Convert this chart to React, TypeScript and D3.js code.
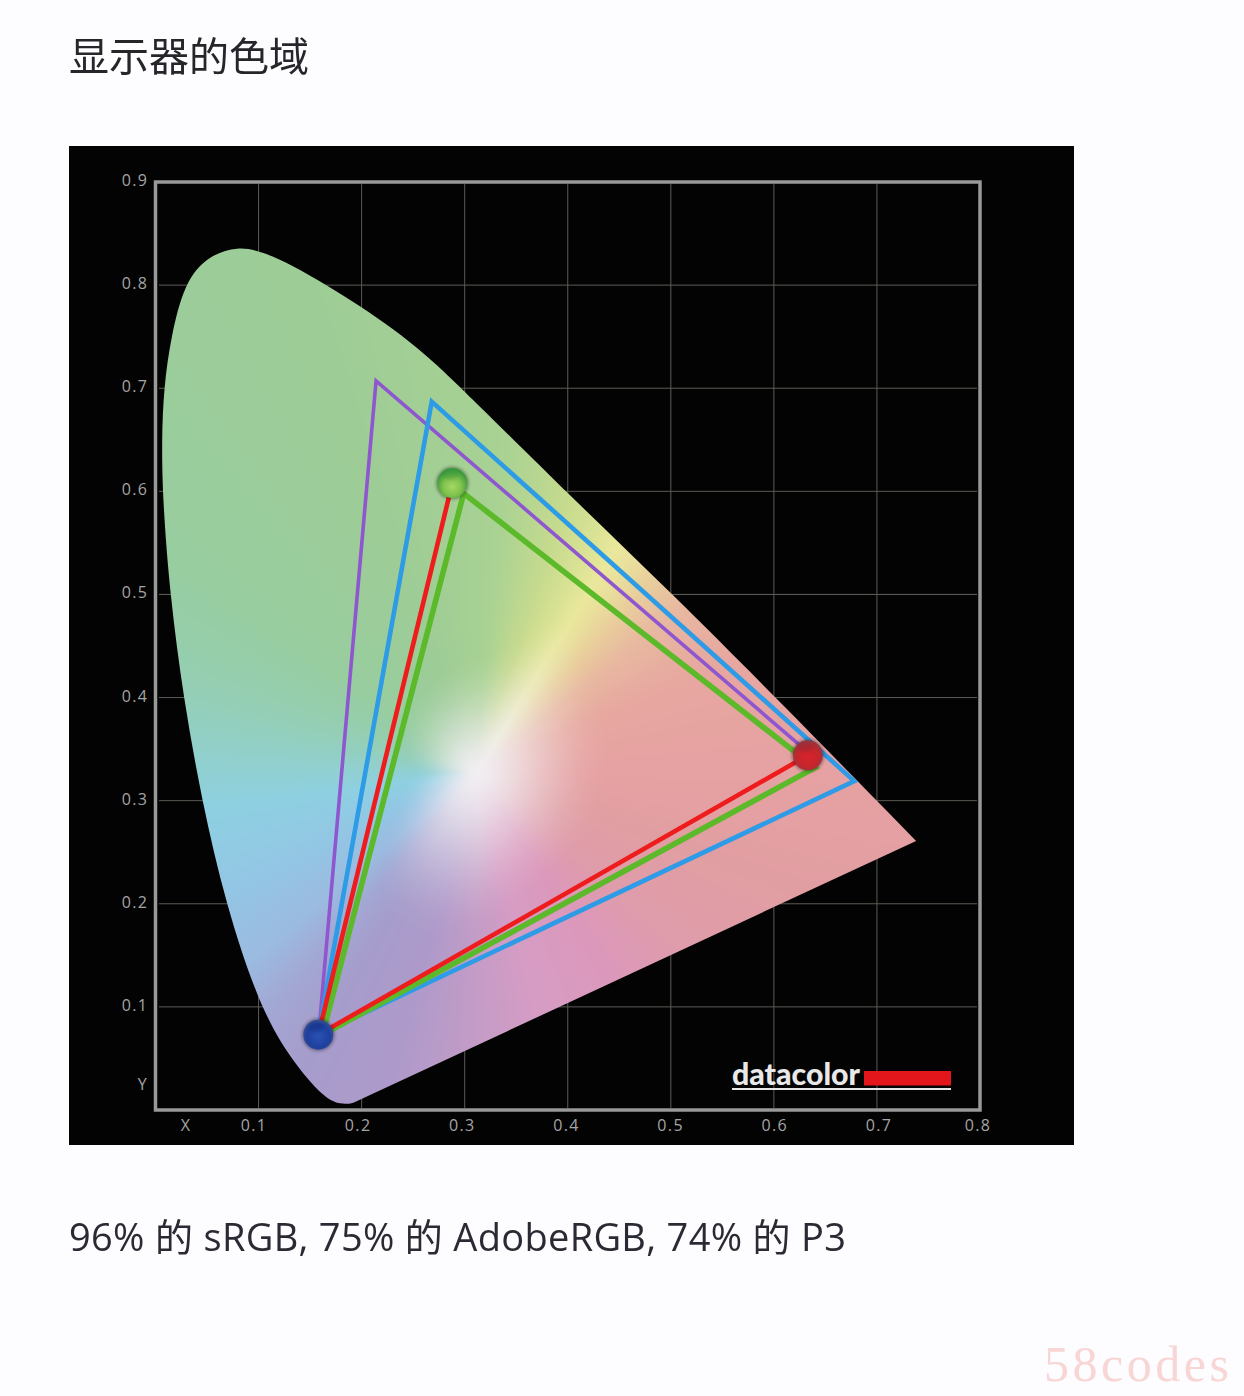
import React, { useMemo } from "react";
import * as d3 from "d3";

const titleText = "显示器的色域";
const captionText = "96% 的 sRGB, 75% 的 AdobeRGB, 74% 的 P3";
const watermarkText = "58codes";
const brandText = "datacolor";

const gridX = [0.1, 0.2, 0.3, 0.4, 0.5, 0.6, 0.7];
const gridY = [0.1, 0.2, 0.3, 0.4, 0.5, 0.6, 0.7, 0.8];
const xTickValues = [0.1, 0.2, 0.3, 0.4, 0.5, 0.6, 0.7];
const yTickValues = [0.1, 0.2, 0.3, 0.4, 0.5, 0.6, 0.7, 0.8, 0.9];

// spectral locus (x, y chromaticity), used as spline control points
const locus: [number, number][] = [
  [0.192, 0.007], [0.18, 0.005], [0.163, 0.012], [0.132, 0.048], [0.101, 0.1], [0.068, 0.2],
  [0.045, 0.3], [0.027, 0.4], [0.014, 0.5], [0.007, 0.592], [0.006, 0.65], [0.008, 0.7],
  [0.015, 0.75], [0.028, 0.802], [0.05, 0.828], [0.08, 0.838], [0.105, 0.832],
  [0.133, 0.819], [0.166, 0.8], [0.198, 0.78], [0.23, 0.758], [0.263, 0.732], [0.295, 0.702],
  [0.406, 0.592], [0.502, 0.5], [0.602, 0.4], [0.738, 0.261],
];

const purpleGamut: [number, number][] = [[0.633, 0.347], [0.214, 0.707], [0.158, 0.07]];
const blueGamut: [number, number][] = [[0.268, 0.687], [0.678, 0.319], [0.158, 0.073]];
const greenGamut: [number, number][] = [[0.299, 0.598], [0.64, 0.332], [0.162, 0.073]];
const redGamut: [number, number][] = [[0.288, 0.608], [0.158, 0.073], [0.633, 0.344]];

// diagram colours read around the white point: direction in degrees, colour, distance to full colour (chromaticity units)
const whitePoint: [number, number] = [0.31, 0.328];
const whiteColour = "#f1eef2";
const hueAngles = [0, 25, 39, 48, 54, 58, 64, 72, 85, 110, 145, 160, 170, 180, 188, 205, 220, 230, 240, 255, 270, 285, 304, 320, 340, 360];
const hueColours = ["#e6a1a2", "#e7a8a0", "#e8b9a0", "#e9cf9c", "#e9e09c", "#eae89c", "#d9e294", "#c5da8e", "#a9d293", "#9dcc96", "#98cda0", "#95ceb0", "#93cfc0", "#90d0d4", "#8ed0e2", "#93c6e4", "#9bbbe0", "#a3a6d3", "#a69ccb", "#ae9aca", "#c49cc6", "#d79cc4", "#dc98bb", "#df9cab", "#e19ea2", "#e6a1a2"];
const hueReach = [0.13, 0.14, 0.15, 0.16, 0.18, 0.19, 0.17, 0.14, 0.12, 0.11, 0.09, 0.08, 0.07, 0.06, 0.07, 0.09, 0.12, 0.15, 0.17, 0.17, 0.16, 0.14, 0.13, 0.13, 0.13, 0.13];

const x = d3.scaleLinear().domain([0, 0.8]).range([155.5, 980]);
const y = d3.scaleLinear().domain([0, 0.9]).range([1110, 182]);
const xLabel = d3.scaleLinear().domain([0.1, 0.7]).range([254, 879]);

const locusLine = d3.line<[number, number]>().x((d) => x(d[0])).y((d) => y(d[1])).curve(d3.curveBasis);
const polyLine = d3.line<[number, number]>().x((d) => x(d[0])).y((d) => y(d[1]));

function useDiagramImage() {
  return useMemo(() => {
    const scale = 2;
    const x0 = x(0), y1 = y(0.9);
    const w = Math.ceil((x(0.8) - x0) / scale);
    const h = Math.ceil((y(0) - y1) / scale);
    const cv = document.createElement("canvas");
    cv.width = w;
    cv.height = h;
    const ctx = cv.getContext("2d")!;
    const img = ctx.createImageData(w, h);
    const hueScale = d3.scaleLinear<string>().domain(hueAngles).range(hueColours).interpolate(d3.interpolateRgb);
    const reachScale = d3.scaleLinear().domain(hueAngles).range(hueReach);
    const white = d3.rgb(whiteColour);
    for (let j = 0; j < h; j++) {
      for (let i = 0; i < w; i++) {
        const cx = x.invert(x0 + i * scale) - whitePoint[0];
        const cy = y.invert(y1 + j * scale) - whitePoint[1];
        const ang = (Math.atan2(cy, cx) * 180 / Math.PI + 360) % 360;
        const c = d3.rgb(hueScale(ang));
        let t = Math.min(1, Math.hypot(cx, cy) / reachScale(ang));
        t = t * t * (3 - 2 * t);
        t = Math.pow(t, 0.8);
        const k = (j * w + i) * 4;
        img.data[k] = white.r + (c.r - white.r) * t;
        img.data[k + 1] = white.g + (c.g - white.g) * t;
        img.data[k + 2] = white.b + (c.b - white.b) * t;
        img.data[k + 3] = 255;
      }
    }
    ctx.putImageData(img, 0, 0);
    return { href: cv.toDataURL("image/png"), x: x0, y: y1, w: w * scale, h: h * scale };
  }, []);
}

const labelStyle = { fontFamily: "'Open Sans', sans-serif", fontSize: 16, fill: "#a5a5a5", letterSpacing: 1.4 } as const;

function Sphere({ p, id, r = 15, shine }: { p: [number, number]; id: string; r?: number; shine: string }) {
  return (
    <g>
      <circle cx={x(p[0])} cy={y(p[1])} r={r + 1.5} fill="#000" opacity={0.3} filter="url(#soft)" />
      <circle cx={x(p[0])} cy={y(p[1])} r={r} fill={`url(#${id})`} />
      <ellipse cx={x(p[0]) - 2} cy={y(p[1]) - 8} rx={8} ry={4.5} fill={shine} opacity={0.35} filter="url(#soft)" />
    </g>
  );
}

export default function App() {
  const im = useDiagramImage();
  const locusPath = locusLine(locus)! + "Z";
  return (
    <svg width={1244} height={1396} viewBox="0 0 1244 1396" style={{ position: "absolute", left: 0, top: 0, background: "#fdfcfe" }}>
      <defs>
        <clipPath id="locusClip"><path d={locusPath} /></clipPath>
        <filter id="soft" x="-30%" y="-30%" width="160%" height="160%"><feGaussianBlur stdDeviation="1.5" /></filter>
        <filter id="lineBlur" x="-5%" y="-5%" width="110%" height="110%"><feGaussianBlur stdDeviation="0.5" /></filter>
        <filter id="textBlur" x="-5%" y="-20%" width="110%" height="140%"><feGaussianBlur stdDeviation="0.45" /></filter>
        <radialGradient id="sGreen" cx="50%" cy="62%" r="55%">
          <stop offset="0%" stopColor="#a6d866" /><stop offset="55%" stopColor="#80c24c" /><stop offset="100%" stopColor="#3b9a3c" />
        </radialGradient>
        <radialGradient id="sRed" cx="50%" cy="55%" r="55%">
          <stop offset="0%" stopColor="#d9232a" /><stop offset="65%" stopColor="#c5252c" /><stop offset="100%" stopColor="#8e3a44" />
        </radialGradient>
        <radialGradient id="sBlue" cx="50%" cy="55%" r="55%">
          <stop offset="0%" stopColor="#2a52b4" /><stop offset="70%" stopColor="#1e409e" /><stop offset="100%" stopColor="#3a4f93" />
        </radialGradient>
      </defs>

      <text x={69} y={71} filter="url(#textBlur)" style={{ fontFamily: "'Noto Sans CJK SC', sans-serif", fontSize: 40, fill: "#26262c" }}>{titleText}</text>

      <rect x={69} y={146} width={1005} height={999} fill="#040303" />

      <g stroke="#5c5c55" strokeWidth={1}>
        {gridX.map((v) => <line key={v} x1={x(v)} x2={x(v)} y1={184} y2={1108} />)}
        {gridY.map((v) => <line key={v} x1={159} x2={977} y1={y(v)} y2={y(v)} />)}
        <line x1={159} x2={977} y1={y(0.5)} y2={y(0.5)} />
      </g>
      <rect x={x(0)} y={y(0.9)} width={x(0.8) - x(0)} height={y(0) - y(0.9)} fill="none" stroke="#999999" strokeWidth={3.5} />

      {yTickValues.map((v) => (
        <text key={v} x={135} y={y(v) + 4} textAnchor="middle" style={labelStyle}>{v.toFixed(1)}</text>
      ))}
      <text x={143} y={1090} textAnchor="middle" style={labelStyle}>Y</text>
      <text x={186} y={1131} textAnchor="middle" style={labelStyle}>X</text>
      {xTickValues.map((v) => (
        <text key={v} x={xLabel(v)} y={1131} textAnchor="middle" style={labelStyle}>{v.toFixed(1)}</text>
      ))}
      <text x={978} y={1131} textAnchor="middle" style={labelStyle}>0.8</text>

      <g clipPath="url(#locusClip)">
        <image href={im.href} x={im.x} y={im.y} width={im.w} height={im.h} preserveAspectRatio="none" />
      </g>

      <g fill="none" strokeLinejoin="miter" filter="url(#lineBlur)">
        <path d={polyLine(purpleGamut)!} stroke="#8e57cf" strokeWidth={3.6} />
        <path d={polyLine(blueGamut)! + "Z"} stroke="#2f9be6" strokeWidth={4.6} />
        <path d={polyLine(greenGamut)! + "Z"} stroke="#5cba2a" strokeWidth={5.6} />
        <path d={polyLine(redGamut)!} stroke="#ee1c1c" strokeWidth={4.6} />
      </g>

      <Sphere p={redGamut[0]} id="sGreen" shine="#2f8f3a" />
      <Sphere p={redGamut[2]} id="sRed" shine="#7d2a35" />
      <Sphere p={redGamut[1]} id="sBlue" shine="#0c2a78" />

      <text x={732} y={1085} textLength={128} lengthAdjust="spacingAndGlyphs" style={{ fontFamily: "Lato, sans-serif", fontWeight: 900, fontSize: 30, fill: "#e8e8e8" }}>{brandText}</text>
      <rect x={864} y={1071} width={87} height={14.5} fill="#e3171b" />
      <rect x={732} y={1088} width={219} height={2} fill="#e6e6e6" />

      <text x={69} y={1251} textLength={777} lengthAdjust="spacing" filter="url(#textBlur)" style={{ fontFamily: "'Open Sans', 'Noto Sans CJK SC', sans-serif", fontSize: 38, fill: "#2c2c34" }}>{captionText}</text>

      <text x={1044} y={1381} textLength={185} lengthAdjust="spacing" style={{ fontFamily: "'Liberation Serif', serif", fontSize: 50, fill: "#f8d6d6" }}>{watermarkText}</text>
    </svg>
  );
}
